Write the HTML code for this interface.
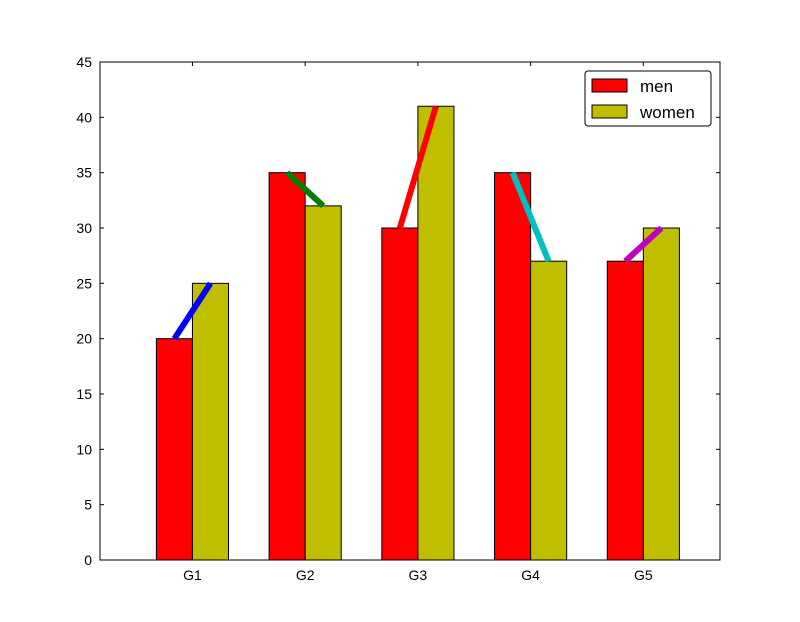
<!DOCTYPE html>
<html><head><meta charset="utf-8"><style>
html,body{margin:0;padding:0;background:#fff;}
svg{display:block;font-family:"Liberation Sans","DejaVu Sans",sans-serif;}
</style></head><body>
<svg id="chart" width="800" height="622" xmlns="http://www.w3.org/2000/svg"></svg>
<script>
const categories = ["G1","G2","G3","G4","G5"];
const menValues = [20,35,30,35,27];
const womenValues = [25,32,41,27,30];
const lineColors = ["#0000ff","#008000","#ff0000","#00bfbf","#bf00bf"];
const yTicks = [0,5,10,15,20,25,30,35,40,45];

const NS="http://www.w3.org/2000/svg";
const svg=document.getElementById('chart');
const L=100,R=720,T=62,B=560;
const xMin=-0.5,xMax=5.0,yMax=45,barW=0.32;
const xs=v=>L+(v-xMin)/(xMax-xMin)*(R-L);
const ys=v=>B-v/yMax*(B-T);
function mk(tag,attrs,parent){const e=document.createElementNS(NS,tag);for(const k in attrs)e.setAttribute(k,attrs[k]);(parent||svg).appendChild(e);return e;}

// bars
categories.forEach((c,i)=>{
  const m=mk('rect',{x:xs(i),y:ys(menValues[i]),width:xs(i+barW)-xs(i),height:ys(0)-ys(menValues[i]),fill:'#ff0000',stroke:'#000','stroke-width':1});
  
  
  const w=mk('rect',{x:xs(i+barW),y:ys(womenValues[i]),width:xs(i+2*barW)-xs(i+barW),height:ys(0)-ys(womenValues[i]),fill:'#bfbf00',stroke:'#000','stroke-width':1});
  
  
});
// lines
categories.forEach((c,i)=>{
  const l=mk('line',{x1:xs(i+barW/2),y1:ys(menValues[i]),x2:xs(i+1.5*barW),y2:ys(womenValues[i]),stroke:lineColors[i],'stroke-width':6});
  
  
});
// axes frame
const fr=mk('rect',{x:L,y:T,width:R-L,height:B-T,fill:'none',stroke:'#000','stroke-width':1});


// y ticks
yTicks.forEach(v=>{
  const y=ys(v);
  mk('line',{x1:L,y1:y,x2:L+4,y2:y,stroke:'#000'});
  mk('line',{x1:R,y1:y,x2:R-4,y2:y,stroke:'#000'});
  const t=mk('text',{x:L-8,y:y+5,'text-anchor':'end','font-size':14});
  t.textContent=v;
  
  
});
// x ticks
categories.forEach((c,i)=>{
  const x=xs(i+barW);
  mk('line',{x1:x,y1:B,x2:x,y2:B-4,stroke:'#000'});
  mk('line',{x1:x,y1:T,x2:x,y2:T+4,stroke:'#000'});
  const t=mk('text',{x:x,y:B+20,'text-anchor':'middle','font-size':14});
  t.textContent=c;
  
  
});
// legend
const lg=mk('g',{});


mk('rect',{x:585,y:71,width:126,height:55,rx:3,fill:'#fff',stroke:'#000','stroke-width':1},lg);
[['men','#ff0000',79],['women','#bfbf00',105]].forEach(([n,col,y])=>{
  const g=mk('g',{},lg);
  
  
  mk('rect',{x:592,y:y,width:35,height:13,fill:col,stroke:'#000'},g);
  const t=mk('text',{x:640,y:y+13,'font-size':17},g);
  t.textContent=n;
});
</script>
</body></html>
